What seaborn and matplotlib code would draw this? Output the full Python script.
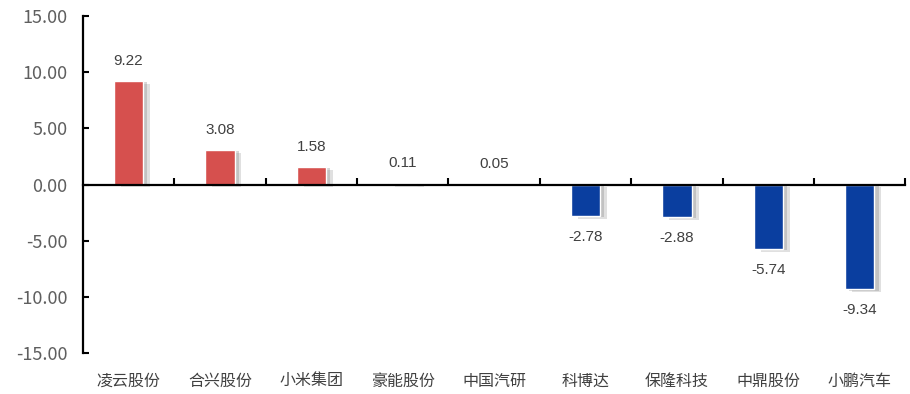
import matplotlib
matplotlib.use("Agg")
import matplotlib.pyplot as plt
import matplotlib.patheffects as pe
from matplotlib.ticker import FixedLocator, FuncFormatter
import seaborn as sns
import pandas as pd

categories = ["凌云股份", "合兴股份", "小米集团", "豪能股份", "中国汽研", "科博达", "保隆科技", "中鼎股份", "小鹏汽车"]
values = [9.22, 3.08, 1.58, 0.11, 0.05, -2.78, -2.88, -5.74, -9.34]
value_labels = ["9.22", "3.08", "1.58", "0.11", "0.05", "-2.78", "-2.88", "-5.74", "-9.34"]
y_ticks = [-15, -10, -5, 0, 5, 10, 15]

RED = "#D6504E"
BLUE = "#0A3E9F"

sns.set_theme(style="white")
plt.rcParams["font.family"] = ["Noto Sans CJK SC", "DejaVu Sans"]

df = pd.DataFrame({"cat": categories, "val": values,
                   "sign": ["pos" if v >= 0 else "neg" for v in values]})

fig = plt.figure(figsize=(9.1, 3.94), dpi=100)
ax = fig.add_axes([0.091, 0.104, 0.904, 0.855])

sns.barplot(data=df, x="cat", y="val", hue="sign", palette={"pos": RED, "neg": BLUE},
            dodge=False, width=0.32, legend=False, ax=ax, saturation=1)

for p in ax.patches:
    p.set_path_effects([pe.SimplePatchShadow(offset=(5, -2), shadow_rgbFace="#9a9a9a", alpha=0.30),
                        pe.SimplePatchShadow(offset=(3, -1), shadow_rgbFace="#8a8a8a", alpha=0.35),
                        pe.Normal()])

ax.set_xlim(-0.5, len(categories) - 0.5)
ax.set_ylim(-15, 15)
ax.yaxis.set_major_locator(FixedLocator(y_ticks))
ax.yaxis.set_major_formatter(FuncFormatter(lambda v, p: f"{v:.2f}"))
ax.tick_params(axis="y", direction="in", length=4, width=1.5, color="black",
               labelsize=13, labelcolor="#5f5f5f", pad=11, left=True)
for lab in ax.get_yticklabels():
    lab.set_fontfamily(["Noto Sans CJK SC", "DejaVu Sans"])

# x axis at zero with ticks between categories
ax.spines["bottom"].set_position(("data", 0))
ax.spines["top"].set_visible(False)
ax.spines["right"].set_visible(False)
ax.spines["left"].set_color("black")
ax.spines["left"].set_linewidth(1.6)
ax.spines["bottom"].set_color("black")
ax.spines["bottom"].set_linewidth(1.6)
ax.set_xticks([i + 0.5 for i in range(len(categories))], minor=True)
ax.tick_params(axis="x", which="minor", direction="in", length=5, width=1.5, color="black", bottom=True)
ax.tick_params(axis="x", which="major", length=0, labelbottom=False)
ax.set_xlabel("")
ax.set_ylabel("")

trans = matplotlib.transforms.blended_transform_factory(ax.transData, ax.transAxes)
for i, c in enumerate(categories):
    ax.text(i, -0.083, c, transform=trans, ha="center", va="center",
            fontsize=11.5, color="#404040", family=["Noto Sans CJK SC", "DejaVu Sans"])

for i, (v, s) in enumerate(zip(values, value_labels)):
    off = 20 if v >= 0 else -21
    ax.annotate(s, (i, v), xytext=(0, off), textcoords="offset pixels",
                ha="center", va="center", fontsize=11, color="#404040",
                family=["Liberation Sans Narrow", "Liberation Sans", "DejaVu Sans"])

fig.savefig("out.png", dpi=100)
